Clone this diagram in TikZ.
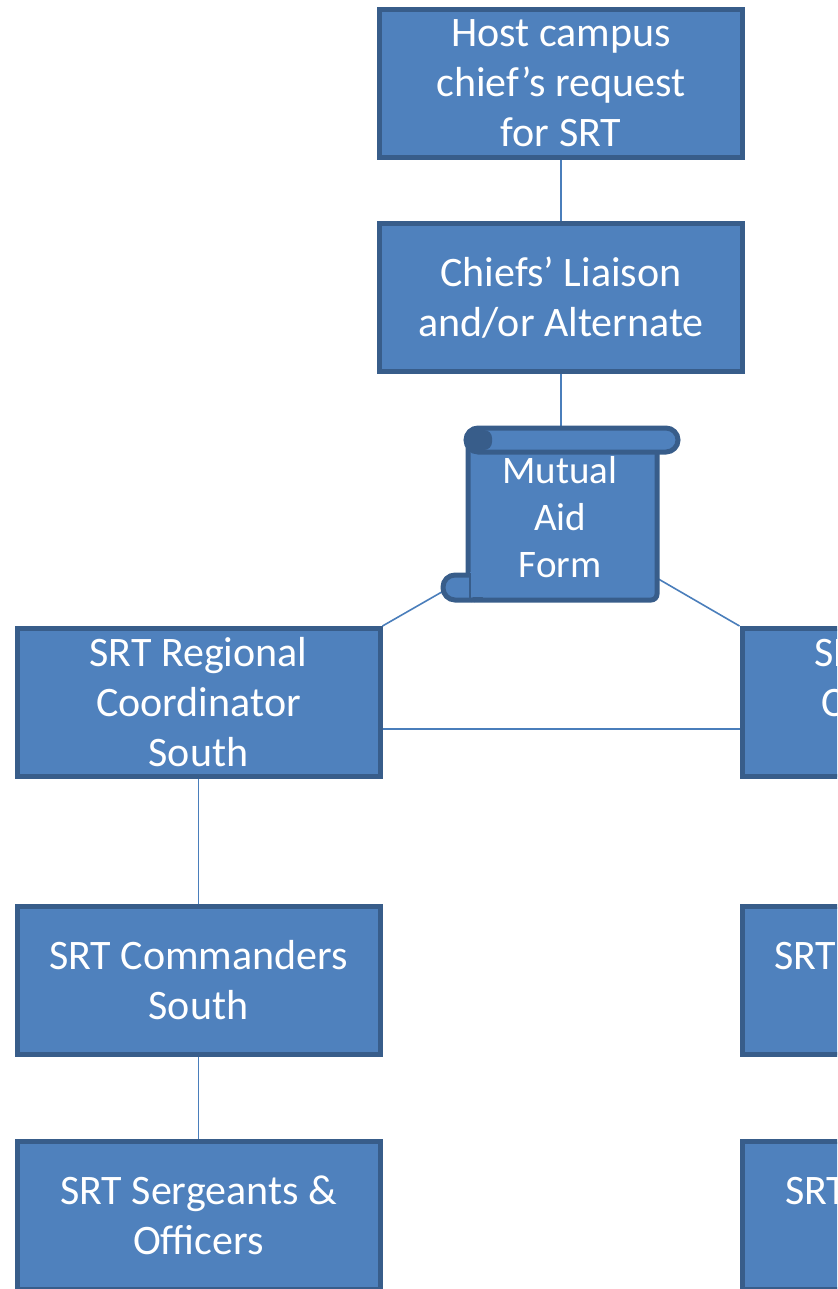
\documentclass[tikz,border=0pt]{standalone}
\usepackage{fontspec}
\setmainfont{Carlito}
\usetikzlibrary{calc}
\definecolor{boxfill}{HTML}{4F81BD}
\definecolor{boxline}{HTML}{385D8A}
\definecolor{conn}{HTML}{4A7EBB}
\begin{document}
\begin{tikzpicture}[x=0.5pt,y=-0.5pt,
  orgbox/.style={draw=boxline, fill=boxfill, line width=2.5pt,
    minimum width=181.5pt, minimum height=74pt, inner sep=0pt,
    text=white, align=center, font=\fontsize{21pt}{25pt}\selectfont},
  scrollpart/.style={draw=boxline, fill=boxfill, line width=2.5pt},
  formtext/.style={text=white, align=center, inner sep=0pt,
    font=\fontsize{19.5pt}{23.3pt}\selectfont},
  link/.style={draw=conn, line width=0.8pt}]
\useasboundingbox (0,0) rectangle (837,1289);
\clip (0,0) rectangle (837,1289);

% scroll connection points
\coordinate (formtop) at (561,429);
\coordinate (formL) at (447,589);
\coordinate (formR) at (655,577);

% boxes
\node[orgbox] (host) at (561,83.5) {Host campus\\chief’s request\\for SRT};
\node[orgbox] (liaison) at (561,297.5) {Chiefs’ Liaison\\and/or Alternate};
\node[orgbox] (south) at (198.5,702.5) {SRT Regional\\Coordinator\\South};
\node[orgbox] (north) at (923.5,702.5) {SRT Regional\\Coordinator\\North};
\node[orgbox] (cmdS) at (198.5,980.5) {SRT Commanders\\South};
\node[orgbox] (cmdN) at (923.5,980.5) {SRT Commanders\\North};
\node[orgbox] (sgtS) at (198.5,1215.5) {SRT Sergeants \&\\Officers};
\node[orgbox] (sgtN) at (923.5,1215.5) {SRT Sergeants \&\\Officers};

% connectors
\draw[link] (host.south) -- (liaison.north);
\draw[link] (liaison.south) -- (formtop);
\draw[link] (formL) -- (south.north east);
\draw[link] (formR) -- (north.north west);
\draw[link] ([yshift=-13.25pt]south.east) -- ([yshift=-13.25pt]north.west);
\draw[link] (south.south) -- (cmdS.north);
\draw[link] (cmdS.south) -- (sgtS.north);

% scroll shape
\path[scrollpart, rounded corners=3pt] (468,438) rectangle (657,600);
\path[scrollpart, rounded corners=6pt] (443,575) rectangle (484,600);
\fill[boxfill] (470,572) rectangle (490,597);
\draw[boxline, line width=1.2pt] (470,573) -- (470,600);
\path[scrollpart, rounded corners=6pt] (466,428) rectangle (678,452);
\fill[boxline, rounded corners=4pt] (468,430) rectangle (492,450);

\node[formtext] (form) at (560,517) {Mutual\\Aid\\Form};
\end{tikzpicture}
\end{document}
